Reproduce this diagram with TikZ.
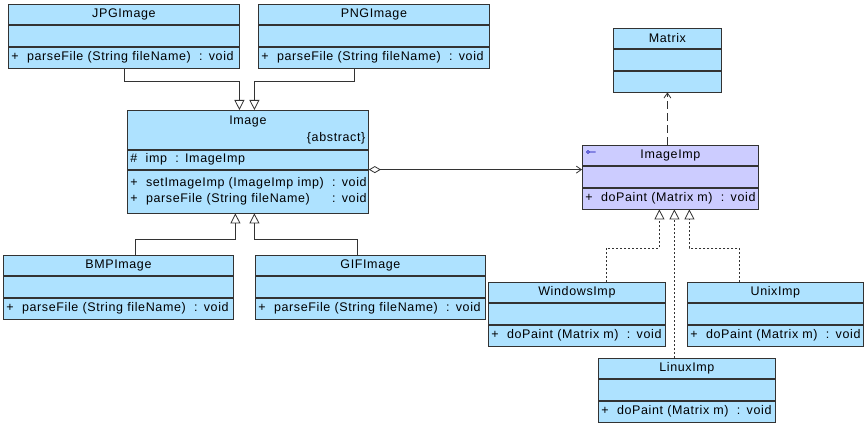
\documentclass[tikz,border=0pt]{standalone}
\usepackage{fontspec}
\setmainfont{Liberation Sans}[LetterSpace=5]
\usetikzlibrary{positioning, arrows.meta}
\definecolor{clsfill}{HTML}{AEE2FF}
\definecolor{impfill}{HTML}{CCCCFF}
\definecolor{clsline}{HTML}{333333}
\tikzset{
    clshead/.style={
        rectangle,
        draw=clsline,
        line width=0.8pt,
        fill=clsfill,
        inner xsep=3pt,
        inner ysep=0pt,
        minimum height=20pt,
        font=\fontsize{12.5}{17}\selectfont,
    },
    clspart/.style={
        clshead,
        align=left,
        minimum height=21pt,
    },
    inherit/.style={
        draw=clsline,
        line width=0.8pt,
        -{Triangle[open, length=10pt, width=10pt]},
    },
    realize/.style={
        inherit,
        dash pattern=on 2pt off 2pt,
    },
    depend/.style={
        draw=clsline,
        line width=0.8pt,
        dash pattern=on 8pt off 4pt,
        -{Straight Barb[length=5pt, width=7pt]},
    },
    assoc/.style={
        draw=clsline,
        line width=0.8pt,
        {Diamond[open, length=12pt, width=7pt]}-{Straight Barb[length=5pt, width=7pt]},
    },
}
% name, top left corner, width, title, attributes, operations
\newcommand{\umlclass}[7][clsfill]{%
  \pgfmathsetmacro{\tw}{#4-6}
  \node[clshead, fill=#1, minimum width=#4pt, anchor=north west] (#2) at (#3) {#5};
  \node[clspart, fill=#1, text width=\tw pt, below=0pt of #2] (#2-attr) {#6};
  \node[clspart, fill=#1, text width=\tw pt, below=0pt of #2-attr] (#2-op) {#7};
}

\begin{document}
\begin{tikzpicture}[x=1pt, y=-1pt]
      \useasboundingbox[fill=white] (0,0) rectangle (865,425);

      \umlclass{jpg}{8,4}{231}{JPGImage}{}{+\ \ parseFile (String fileName) \ : void}
      \umlclass{png}{258,4}{231}{PNGImage}{}{+\ \ parseFile (String fileName) \ : void}
      \umlclass{bmp}{3,255}{230}{BMPImage}{}{+\ \ parseFile (String fileName) \ : void}
      \umlclass{gif}{255,255}{230}{GIFImage}{}{+\ \ parseFile (String fileName) \ : void}

      % abstract class
      \node[clshead, minimum width=241pt, text width=235pt, minimum height=39pt,
            align=left, anchor=north west] (image) at (127,110)
            {\makebox[235pt][c]{Image}\\ \makebox[235pt][r]{\{abstract\}}};
      \node[clspart, text width=235pt, minimum height=19pt, below=0pt of image]
            (image-attr) {\#\ \ imp \ : ImageImp};
      \node[clspart, text width=235pt, minimum height=43pt, below=0pt of image-attr]
            (image-op) {\begin{tabular}{@{}l@{\ \ }l@{}}
                +\ \ setImageImp (ImageImp imp) & : void\\[-1pt]
                +\ \ parseFile (String fileName) & : void
            \end{tabular}};

      \umlclass{mat}{613,28}{108}{Matrix}{}{}
      \umlclass[impfill]{imageimp}{582,145}{176}{ImageImp}{}{+\ \ doPaint (Matrix m) \ : void}
      \draw[blue!70!black, line width=0.6pt] ([shift={(6,7)}]imageimp.north west) circle[radius=1.5pt]
            ([shift={(7.5,7)}]imageimp.north west) -- ++(6,0);

      \umlclass{win}{488,282}{177}{WindowsImp}{}{+\ \ doPaint (Matrix m) \ : void}
      \umlclass{unix}{687,282}{176}{UnixImp}{}{+\ \ doPaint (Matrix m) \ : void}
      \umlclass{linux}{598,358}{177}{LinuxImp}{}{+\ \ doPaint (Matrix m) \ : void}

      \draw[inherit] (jpg-op.south) -- ++(0,13) -| ([xshift=-8.5pt]image.north);
      \draw[inherit] ([xshift=-19.5pt]png-op.south) -- ++(0,13) -| ([xshift=6.5pt]image.north);
      \draw[inherit] ([xshift=17pt]bmp.north) -- ++(0,-16) -| ([xshift=-12.5pt]image-op.south);
      \draw[inherit] ([xshift=-13pt]gif.north) -- ++(0,-16) -| ([xshift=6.5pt]image-op.south);

      \draw[assoc] (image-attr.south east) -- (image-attr.south east -| imageimp.west);
      \draw[depend] ([xshift=-3pt]imageimp.north) -- ([xshift=-3pt]imageimp.north |- mat-op.south);

      \draw[realize] ([xshift=29.5pt]win.north) -- ++(0,-34) -| ([xshift=-11pt]imageimp-op.south);
      \draw[realize] ([xshift=4pt]imageimp-op.south |- linux.north) -- ([xshift=4pt]imageimp-op.south);
      \draw[realize] ([xshift=-36pt]unix.north) -- ++(0,-34) -| ([xshift=19pt]imageimp-op.south);

\end{tikzpicture}
\end{document}
